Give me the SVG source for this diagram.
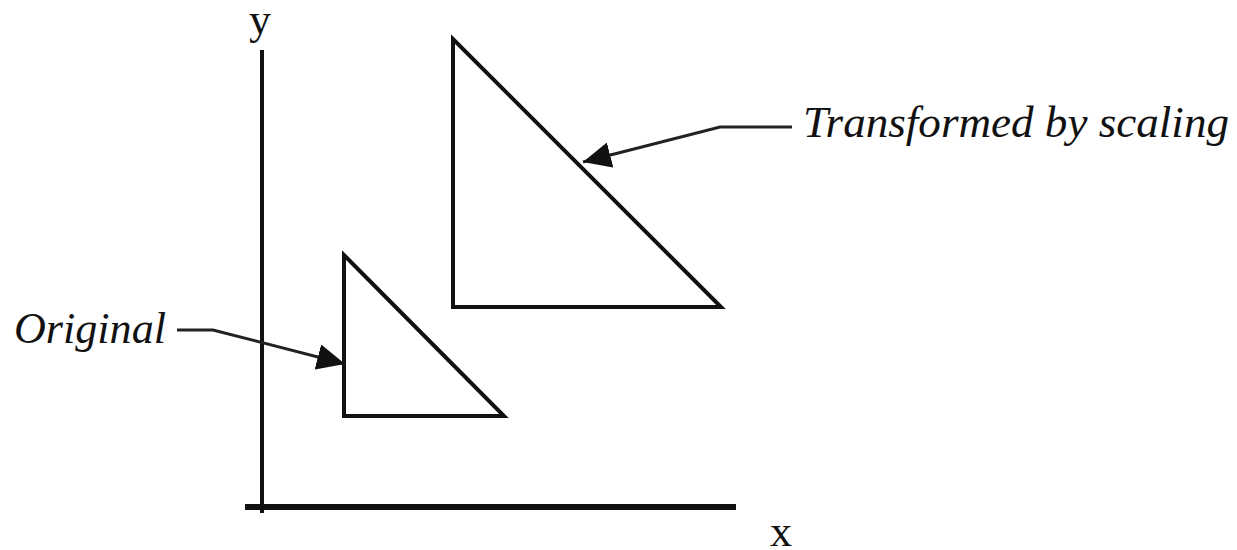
<svg xmlns="http://www.w3.org/2000/svg" width="1237" height="550" viewBox="0 0 1237 550">
<defs>
<style>
.shape{fill:none;stroke:#111;stroke-width:4;stroke-linejoin:miter}
.axis{fill:none;stroke:#111}
.conn{fill:none;stroke:#222;stroke-width:3}
.lbl{font-family:"Liberation Serif","Times New Roman",serif;font-size:44px;fill:#111}
.it{font-style:italic}
</style>
<marker id="ah" markerUnits="userSpaceOnUse" markerWidth="30" markerHeight="26" refX="28" refY="13" orient="auto" viewBox="0 0 30 26">
<path d="M0,0 L28,13 L0,26 Z" fill="#111"/>
</marker>
</defs>
<rect width="1237" height="550" fill="#fff"/>
<g id="axes">
<line class="axis" x1="262" y1="50" x2="262" y2="513" stroke-width="4"/>
<line class="axis" x1="245" y1="507" x2="736" y2="507" stroke-width="6"/>
<text class="lbl" x="249" y="34">y</text>
<text class="lbl" x="770" y="546">x</text>
</g>
<g id="original">
<polygon class="shape" points="344,255 344,416 504,416"/>
</g>
<g id="scaled">
<polygon class="shape" points="453,39 453,307 721,307"/>
</g>
<g id="label-original">
<text class="lbl it" x="14" y="343" textLength="152" lengthAdjust="spacingAndGlyphs">Original</text>
</g>
<g id="label-scaled">
<text class="lbl it" x="803" y="137" textLength="426" lengthAdjust="spacingAndGlyphs">Transformed by scaling</text>
</g>
<g id="connectors">
<polyline class="conn" points="177,330 213,330 345,364" marker-end="url(#ah)"/>
<polyline class="conn" points="792,127 720,127 583,162" marker-end="url(#ah)"/>
</g>
</svg>
